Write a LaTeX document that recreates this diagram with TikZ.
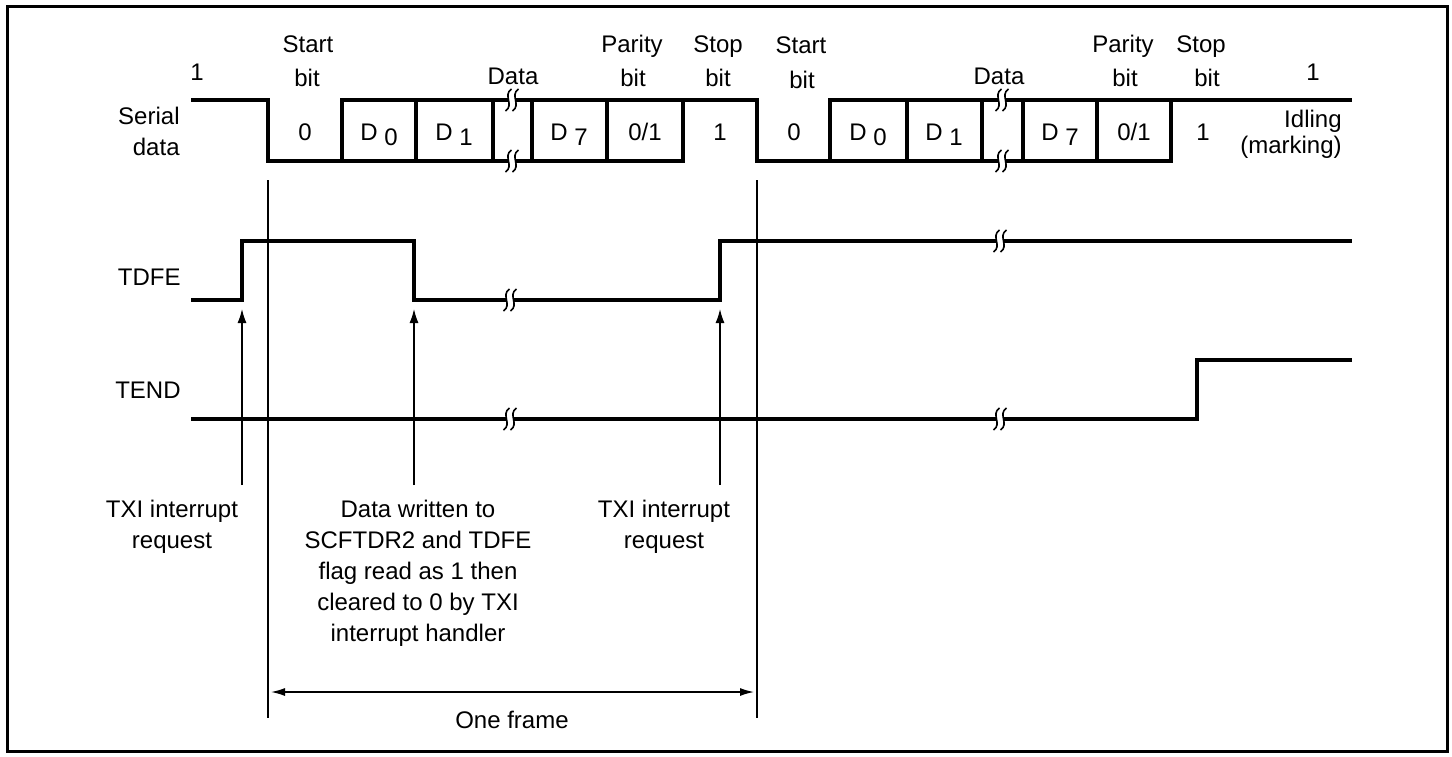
\documentclass[tikz,border=0pt]{standalone}
\usepackage{fontspec}
\setmainfont{Liberation Sans}
\usetikzlibrary{arrows.meta}

\begin{document}
\begin{tikzpicture}[
    x=0.5pt, y=-0.5pt,
    font=\fontsize{12}{17.5}\selectfont,
    sig/.style={line width=1.6pt, line cap=rect},
    thinline/.style={line width=0.7pt},
    arr/.style={-{Latex[length=7pt,width=4.5pt]}, line width=0.7pt},
    dim/.style={{Latex[length=7pt,width=4pt]}-{Latex[length=7pt,width=4pt]}, line width=0.7pt},
    lbl/.style={inner sep=0pt, anchor=base},
    note/.style={inner sep=0pt, anchor=north, align=center, font=\fontsize{12}{15.5}\selectfont},
    brk/.pic={
        \draw[white, line width=3.4pt] (3,-11) .. controls (-6,-5) and (6,5) .. (-3,11);
        \draw[line width=0.8pt] (-0.5,-11) .. controls (-9.5,-5) and (2.5,5) .. (-6.5,11);
        \draw[line width=0.8pt] (6.5,-11) .. controls (-2.5,-5) and (9.5,5) .. (0.5,11);
    }
]
    \useasboundingbox (0,0) rectangle (1452,756);
    \draw[line width=1.5pt] (7,6) rectangle (1447,751);

    % Signal names
    \node[lbl, anchor=base east] (serial) at (180,124) {Serial};
    \node[lbl, anchor=base east] (sdata) at (180,155) {data};
    \node[lbl, anchor=base east] (tdfe) at (181,285) {TDFE};
    \node[lbl, anchor=base east] (tend) at (181,398) {TEND};

    % Frame boundaries
    \draw[thinline] (268,180) -- (268,718);
    \draw[thinline] (757,180) -- (757,718);

    % Serial data
    \draw[sig] (193,100) -- (268,100) -- (268,161) -- (683,161);
    \draw[sig] (342,100) -- (757,100) -- (757,161) -- (1171,161);
    \draw[sig] (830,100) -- (1350,100);
    \foreach \x in {342,416,493,532,607,683,830,907,982,1023,1097,1171}
        \draw[sig] (\x,100) -- (\x,161);
    \foreach \x in {512,1002} {
        \pic at (\x,100) {brk};
        \pic at (\x,161) {brk};
    }

    % TDFE and TEND
    \draw[sig] (193,300) -- (242,300) -- (242,241) -- (414,241) -- (414,300)
        -- (720,300) -- (720,241) -- (1350,241);
    \draw[sig] (193,419) -- (1197,419) -- (1197,360) -- (1350,360);
    \pic at (510,300) {brk};
    \pic at (1000,241) {brk};
    \pic at (510,419) {brk};
    \pic at (1000,419) {brk};

    % Bit values
    \node[lbl] (b0) at (305,140) {0};
    \node[lbl] (bd0) at (379,140) {D\ \raisebox{-2.5pt}{0}};
    \node[lbl] (bd1) at (454,140) {D\ \raisebox{-2.5pt}{1}};
    \node[lbl] (bd7) at (569,140) {D\ \raisebox{-2.5pt}{7}};
    \node[lbl] (bp) at (645,140) {0/1};
    \node[lbl] (bs) at (720,140) {1};
    \node[lbl] (b0b) at (794,140) {0};
    \node[lbl] (bd0b) at (868,140) {D\ \raisebox{-2.5pt}{0}};
    \node[lbl] (bd1b) at (944,140) {D\ \raisebox{-2.5pt}{1}};
    \node[lbl] (bd7b) at (1060,140) {D\ \raisebox{-2.5pt}{7}};
    \node[lbl] (bpb) at (1134,140) {0/1};
    \node[lbl] (bsb) at (1203,140) {1};

    % Field names
    \node[lbl] (one1) at (197,80) {1};
    \node[lbl] (start1) at (308,52) {Start};
    \node[lbl] (startb1) at (307,86) {bit};
    \node[lbl] (data1) at (513,84) {Data};
    \node[lbl] (par1) at (632,52) {Parity};
    \node[lbl] (parb1) at (633,86) {bit};
    \node[lbl] (stop1) at (718,52) {Stop};
    \node[lbl] (stopb1) at (718,86) {bit};
    \node[lbl] (start2) at (801,53) {Start};
    \node[lbl] (startb2) at (802,88) {bit};
    \node[lbl] (data2) at (999,84) {Data};
    \node[lbl] (par2) at (1123,52) {Parity};
    \node[lbl] (parb2) at (1125,86) {bit};
    \node[lbl] (stop2) at (1201,52) {Stop};
    \node[lbl] (stopb2) at (1207,86) {bit};
    \node[lbl] (one2) at (1313,80) {1};
    \node[lbl, anchor=base east] (idle) at (1342,127) {Idling};
    \node[lbl, anchor=base east] (mark) at (1342,153) {(marking)};

    % Events
    \node[note] (txi1) at (172,500) {TXI interrupt\\request};
    \node[note] (wr) at (418,500)
        {Data written to\\SCFTDR2 and TDFE\\flag read as 1 then\\cleared to 0 by TXI\\interrupt handler};
    \node[note] (txi2) at (664,500) {TXI interrupt\\request};
    \coordinate (a1) at (242,485);
    \coordinate (a2) at (414,485);
    \coordinate (a3) at (720,485);
    \draw[arr] (a1) -- (242,309);
    \draw[arr] (a2) -- (414,309);
    \draw[arr] (a3) -- (720,309);

    % One frame
    \coordinate (fl) at (271,692);
    \coordinate (fr) at (754,692);
    \draw[dim] (fl) -- (fr);
    \node[lbl] (frame) at (512,728) {One frame};
\end{tikzpicture}
\end{document}
